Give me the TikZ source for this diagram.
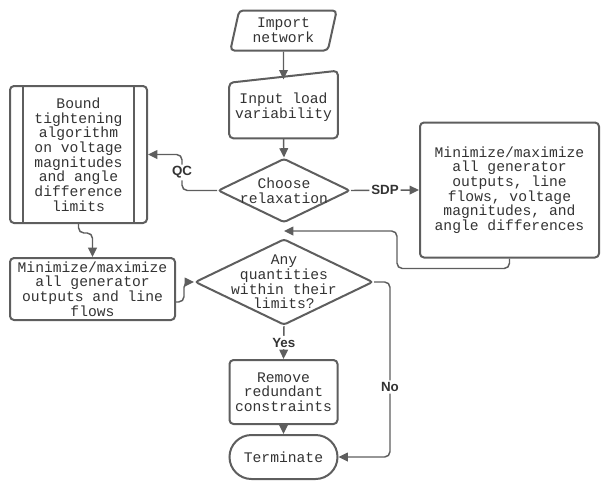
\documentclass[tikz,border=0pt]{standalone}
\usepackage{fontspec}
\newfontfamily\boxfont{Liberation Mono}
\newfontfamily\labfont{Liberation Sans}
\usepackage{tikz}
\usetikzlibrary{calc}
\usetikzlibrary{positioning}
\usetikzlibrary{shapes}
\usetikzlibrary{arrows.meta}
\definecolor{linegray}{HTML}{5E5E5E}
\definecolor{textgray}{HTML}{333333}
\tikzset{
  box/.style={draw=linegray, line width=1.5pt, rounded corners=3pt, align=center, text=textgray, inner sep=0pt, font=\boxfont\fontsize{11}{11}\selectfont},
  txt/.style={align=center, text=textgray, inner sep=0pt, font=\boxfont\fontsize{11}{11}\selectfont},
  dec/.style={diamond, draw=linegray, line width=1.5pt, rounded corners=2pt, inner sep=0pt},
  arr/.style={draw=linegray, line width=1.1pt, rounded corners=4pt, -{Triangle[length=7pt,width=6.5pt]}},
  lab/.style={font=\labfont\bfseries\fontsize{10}{10}\selectfont, text=textgray, fill=white, inner sep=1.5pt}
}

\begin{document}
\begin{tikzpicture}[x=0.75pt,y=-0.75pt]
				\useasboundingbox (0,0) rectangle (601,480);

				\node[box, trapezium, trapezium left angle=76, trapezium right angle=104, trapezium stretches, minimum width=80pt, minimum height=30pt] (imp) at (283.5,30.5) {Import\\network};
				\node[txt, minimum width=81pt, minimum height=45.75pt] (inp) at (283.5,107.5) {Input load\\variability};
				\draw[linegray, line width=1.5pt, rounded corners=3pt] (inp.south west) -- ([yshift=-4.5pt]inp.north west) -- ([yshift=4.5pt]inp.north east) -- (inp.south east) -- cycle;
				\node[dec, minimum width=99pt, minimum height=48pt, label={[txt]center:Choose\\relaxation}] (ch) at (284,190.5) {};
				\node[box, minimum width=102.75pt, minimum height=102.75pt] (bt) at (78.5,154.5) {Bound\\tightening\\algorithm\\on voltage\\magnitudes\\and angle\\difference\\limits};
				\draw[linegray, line width=1.5pt] ([xshift=10.5pt]bt.north west) -- ([xshift=10.5pt]bt.south west);
				\draw[linegray, line width=1.5pt] ([xshift=-10.5pt]bt.north east) -- ([xshift=-10.5pt]bt.south east);
				\node[box, minimum width=134.25pt, minimum height=101.25pt] (sdp) at (509.5,190) {Minimize/maximize\\all generator\\outputs, line\\flows, voltage\\magnitudes, and\\angle differences};
				\node[dec, minimum width=133.5pt, minimum height=64.5pt, label={[txt]center:Any\\quantities\\within their\\limits?}] (q) at (284,282) {};
				\node[box, minimum width=123.75pt, minimum height=46.5pt] (mn) at (92.5,289) {Minimize/maximize\\all generator\\outputs and line\\flows};
				\node[box, minimum width=81pt, minimum height=48pt] (rm) at (283.5,392) {Remove\\redundant\\constraints};
				\node[box, rounded corners=16.5pt, minimum width=81pt, minimum height=33pt] (term) at (283.5,457) {Terminate};

				\draw[arr] (imp.south) -- ([yshift=-2pt]inp.north);
				\draw[arr] (inp.south) -- (ch.north);
				\draw[arr] (ch.west) -- ++(-35,0) |- (bt.east) node[lab, pos=0.25] {QC};
				\draw[arr] (ch.east) -- (sdp.west) node[lab, midway] {SDP};
				\draw[arr] (sdp.south) -- ++(0,10) -| ($(q.north)+(113,-7)$) -- ($(q.north)+(0,-7)$);
				\draw[arr] (bt.south) -- ++(0,9) -| (mn.north);
				\draw[arr] ([yshift=-9.75pt]mn.east) -- ++(8,0) |- (q.west);
				\draw[arr] (q.south) -- (rm.north) node[lab, midway] {Yes};
				\draw[arr] (rm.south) -- (term.north);
				\draw[arr] (q.east) -- ++(16,0) |- (term.east) node[lab, pos=0.3] {No};
			\end{tikzpicture}
\end{document}
